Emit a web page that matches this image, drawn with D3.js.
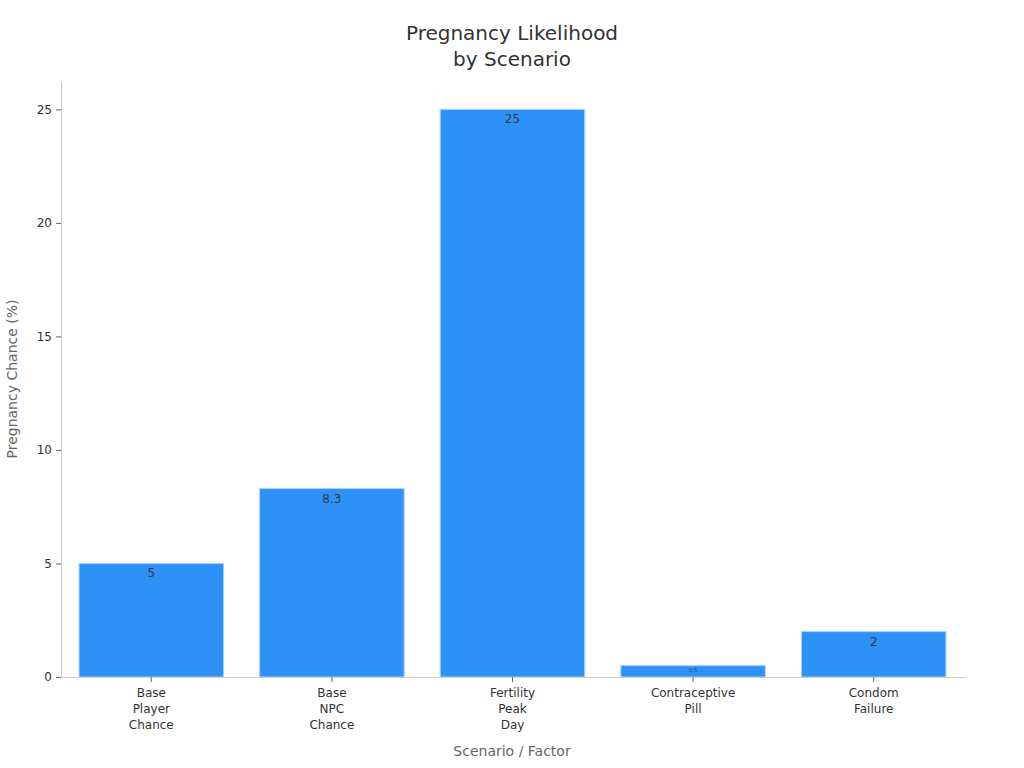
<!DOCTYPE html>
<html><head><meta charset="utf-8">
<script src="https://cdn.jsdelivr.net/npm/d3@7"></script>
<style>body{margin:0;background:#fff;font-family:"DejaVu Sans",sans-serif;}</style>
</head><body>
<svg id="chart" width="1024" height="768"></svg>
<script>
const categories = [["Base","Player","Chance"],["Base","NPC","Chance"],["Fertility","Peak","Day"],["Contraceptive","Pill"],["Condom","Failure"]];
const values = [5, 8.3, 25, 0.5, 2];
const valueLabels = ["5","8.3","25","0.5","2"];
const yTicks = [0,5,10,15,20,25];

(function(){
const svg = d3.select("#chart");
const mLeft = 61, mRight = 964, mTop = 81, mBottom = 677;
const keys = categories.map((c,i)=>String(i));
const x = d3.scaleBand().domain(keys).range([mLeft,mRight]).paddingInner(0.2).paddingOuter(0.1);
const y = d3.scaleLinear().domain([0,26.25]).range([mBottom,mTop]);

svg.append("text").attr("x",512).attr("y",40).attr("text-anchor","middle").attr("font-size",20).attr("fill","#333").text("Pregnancy Likelihood");
svg.append("text").attr("x",512).attr("y",66).attr("text-anchor","middle").attr("font-size",20).attr("fill","#333").text("by Scenario");

svg.selectAll("rect.bar").data(values).enter().append("rect")
  .attr("x",(d,i)=>x(keys[i])).attr("width",x.bandwidth())
  .attr("y",d=>y(d)).attr("height",d=>y(0)-y(d))
  .attr("fill","#2e91f8").attr("stroke","#a9d0fb").attr("stroke-width",1);

svg.selectAll("text.vl").data(values).enter().append("text")
  .attr("x",(d,i)=>x(keys[i])+x.bandwidth()/2)
  .attr("y",d=> d<1 ? y(d)+6 : y(d)+14)
  .attr("text-anchor","middle").attr("font-size",d=>d<1?5:12).attr("fill","#3a3a3a")
  .text((d,i)=>valueLabels[i]);

const ya = svg.append("g").attr("transform",`translate(${mLeft},0)`)
  .call(d3.axisLeft(y).tickValues(yTicks).tickSize(5).tickPadding(4).tickSizeOuter(0));
ya.select(".domain").attr("stroke","#ccc");
ya.selectAll(".tick line").attr("stroke","#666");
ya.selectAll(".tick text").attr("font-size",12).attr("fill","#333").attr("font-family","DejaVu Sans");

const xa = svg.append("g").attr("transform",`translate(0,${mBottom})`)
  .call(d3.axisBottom(x).tickSize(5).tickSizeOuter(0).tickFormat(""));
xa.select(".domain").attr("stroke","#ccc");
xa.selectAll(".tick line").attr("stroke","#666");
xa.selectAll(".tick").each(function(k,i){
  const t = d3.select(this).append("text").attr("fill","#333").attr("font-size",12).attr("text-anchor","middle").attr("font-family","DejaVu Sans");
  categories[i].forEach((line,j)=>{
    t.append("tspan").attr("x",0).attr("y",20+j*16).text(line);
  });
});

svg.append("text").attr("x",512).attr("y",756).attr("text-anchor","middle").attr("font-size",14).attr("fill","#666").text("Scenario / Factor");
svg.append("text").attr("transform",`translate(17,${(mTop+mBottom)/2}) rotate(-90)`).attr("text-anchor","middle").attr("font-size",14).attr("fill","#666").text("Pregnancy Chance (%)");
})();
</script>
</body></html>
